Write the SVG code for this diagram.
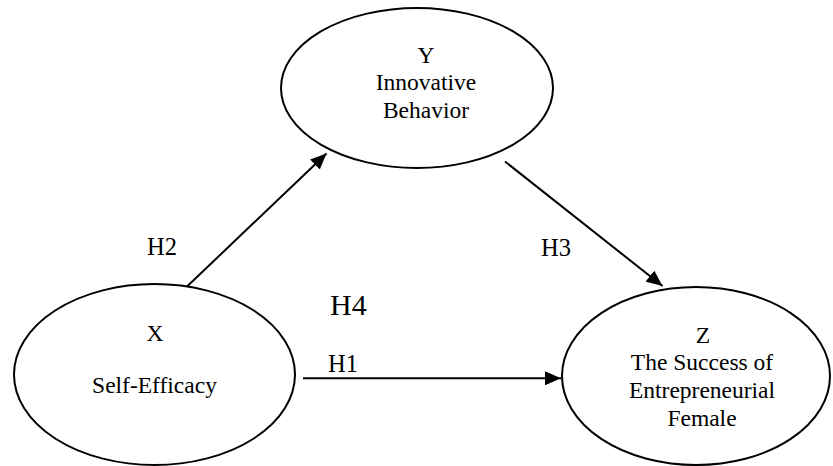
<svg xmlns="http://www.w3.org/2000/svg" width="833" height="466" viewBox="0 0 833 466">
<style>
.node{fill:#fff;stroke:#000;stroke-width:2}
.t{font-size:23.5px;fill:#000;text-anchor:middle}
.h{font-size:24.5px;fill:#000}
.edge{stroke:#000;stroke-width:2;fill:none;marker-end:url(#arr)}
</style>
<defs>
<marker id="arr" markerUnits="userSpaceOnUse" markerWidth="18" markerHeight="14" refX="16" refY="7" orient="auto">
<path d="M0,0 L16,7 L0,14 Z" fill="#000"/>
</marker>
</defs>
<g font-family="Liberation Serif, DejaVu Serif, serif">
<g id="node-y">
<ellipse class="node" cx="417" cy="88" rx="136" ry="80"/>
<text class="t" x="426" y="63">Y</text>
<text class="t" x="426" y="90">Innovative</text>
<text class="t" x="426" y="118">Behavior</text>
</g>
<g id="node-x">
<ellipse class="node" cx="154.5" cy="374.5" rx="140.5" ry="90.5"/>
<text class="t" x="155" y="341">X</text>
<text class="t" x="154.5" y="393">Self-Efficacy</text>
</g>
<g id="node-z">
<ellipse class="node" cx="696" cy="376" rx="134" ry="89"/>
<text class="t" x="703" y="343">Z</text>
<text class="t" x="702" y="370">The Success of</text>
<text class="t" x="702" y="398">Entrepreneurial</text>
<text class="t" x="702" y="426">Female</text>
</g>
<g id="connectors">
<line class="edge" x1="187" y1="286.5" x2="326.5" y2="153.5"/>
<line class="edge" x1="505" y1="161.5" x2="662.5" y2="286"/>
<line class="edge" x1="303" y1="378.3" x2="561" y2="378.3"/>
</g>
<g id="labels">
<text class="h" x="147" y="255">H2</text>
<text class="h" x="541" y="256">H3</text>
<text class="h" x="328" y="372">H1</text>
<text class="h" x="330" y="315" style="font-size:30px">H4</text>
</g>
</g>
</svg>
